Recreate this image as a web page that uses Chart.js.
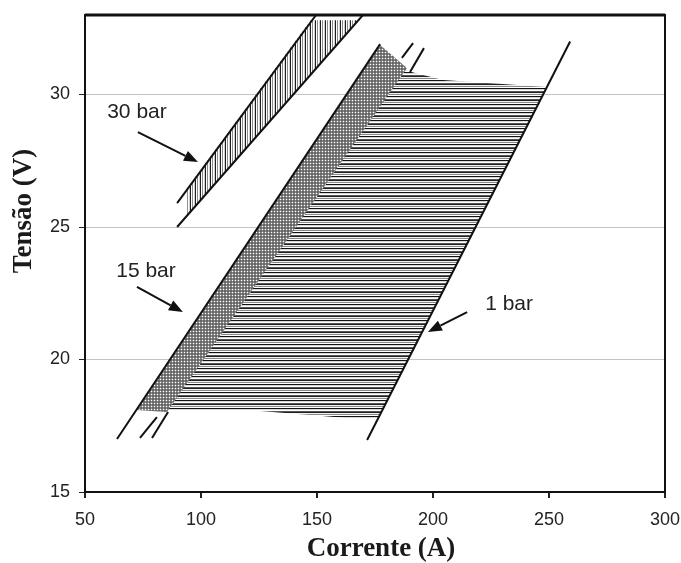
<!DOCTYPE html>
<html>
<head>
<meta charset="utf-8">
<script src="https://cdn.jsdelivr.net/npm/chart.js@4.4.1/dist/chart.umd.min.js"></script>
<style>
  html, body { margin: 0; padding: 0; background: #fff; }
  #wrap { width: 681px; height: 563px; }
</style>
</head>
<body>
<div id="wrap"><canvas id="myChart" width="681" height="563"></canvas></div>
<script>
// values: [corrente (A), tensão (V)]
var bar30Upper = [[89.7, 25.9], [149.6, 33.0]];
var bar30Lower = [[89.7, 25.0], [169.8, 33.0]];
var bar15Line = [[63.8, 17.0], [177.2, 31.9]];
var bar15MidLow = [[73.7, 17.04], [81.0, 17.83]];
var bar15MidHigh = [[186.6, 31.38], [191.4, 31.94]];
var bar15EdgeLow = [[78.9, 17.04], [85.8, 18.02]];
var bar15EdgeHigh = [[190.1, 30.85], [196.1, 31.75]];
var bar1Line = [[171.6, 16.96], [259.1, 32.0]];

// shaded areas
var area1bar = [[82, 18.09], [125.4, 18.06], [162.9, 17.79], [176.4, 17.79], [249.1, 30.28],
                [204.3, 30.55], [186, 30.95]];
var area15bar = [[72.0, 18.09], [177.2, 31.87], [188.8, 31.0], [85.3, 18.02]];
var area30bar = [[94.0, 26.45], [147.3, 32.8], [167.6, 32.8], [94.0, 25.43]];

var xTicks = [50, 100, 150, 200, 250, 300];
var yTicks = [15, 20, 25, 30];
var yMax = 33;

// labels with arrows: text, text centre, arrow tail, arrow head
var labels = [
    {text: "30 bar", at: [72.4, 29.32], from: [72.8, 28.58], to: [98.7, 27.45]},
    {text: "15 bar", at: [76.3, 23.32], from: [72.4, 22.74], to: [92.2, 21.79]},
    {text: "1 bar", at: [232.8, 22.09], from: [214.7, 21.79], to: [197.8, 21.04]}
];

function pts(arr) {
    return arr.map(function (p) { return {x: p[0], y: p[1]}; });
}

function makePattern(w, h, paint) {
    var c = document.createElement("canvas");
    c.width = w; c.height = h;
    var g = c.getContext("2d");
    g.fillStyle = "#fff";
    g.fillRect(0, 0, w, h);
    paint(g);
    return g.createPattern(c, "repeat");
}

var rowCols = ["#111111", "#d8d8d8", "#ffffff", "#555555", "#222222", "#f0f0f0", "#888888", "#ffffff"];
var hStripes = makePattern(8, rowCols.length, function (g) {
    rowCols.forEach(function (c, i) { g.fillStyle = c; g.fillRect(0, i, 8, 1); });
});
var colCols = ["#1e1e1e", "#ffffff", "#8a8a8a", "#ffffff", "#d0d0d0"];
var vStripes = makePattern(colCols.length, 8, function (g) {
    colCols.forEach(function (c, i) { g.fillStyle = c; g.fillRect(i, 0, 1, 8); });
});
var dots = makePattern(3, 3, function (g) {
    var m = [["#666", "#8a8a8a", "#666"], ["#8a8a8a", "#fff", "#8a8a8a"], ["#666", "#8a8a8a", "#666"]];
    for (var r = 0; r < 3; r++) for (var c = 0; c < 3; c++) { g.fillStyle = m[r][c]; g.fillRect(c, r, 1, 1); }
});

function lineSet(arr) {
    return {data: pts(arr), borderColor: "#111", borderWidth: 2, pointRadius: 0, fill: false, tension: 0};
}
function areaSet(arr, pattern) {
    return {data: pts(arr), borderWidth: 0, borderColor: "rgba(0,0,0,0)", pointRadius: 0,
            fill: "shape", backgroundColor: pattern, tension: 0};
}

// frame, axis titles, labels and arrows
var extras = {
    id: "extras",
    afterDatasetsDraw: function (chart) {
        var ctx = chart.ctx, a = chart.chartArea;
        var xs = chart.scales.x, ys = chart.scales.y;
        ctx.save();
        ctx.strokeStyle = "#111";
        ctx.lineWidth = 2;
        ctx.strokeRect(a.left, a.top, a.right - a.left, a.bottom - a.top);
        ctx.lineWidth = 3;
        ctx.beginPath(); ctx.moveTo(a.left, a.top); ctx.lineTo(a.right, a.top); ctx.stroke();

        ctx.fillStyle = "#222";
        ctx.font = "21px 'Liberation Sans', Arial, sans-serif";
        ctx.textAlign = "center";
        ctx.textBaseline = "middle";
        labels.forEach(function (l) {
            ctx.fillText(l.text, xs.getPixelForValue(l.at[0]), ys.getPixelForValue(l.at[1]));
            var x1 = xs.getPixelForValue(l.from[0]), y1 = ys.getPixelForValue(l.from[1]);
            var x2 = xs.getPixelForValue(l.to[0]), y2 = ys.getPixelForValue(l.to[1]);
            var ang = Math.atan2(y2 - y1, x2 - x1);
            var hl = 14, hw = 5.5;
            var bx = x2 - hl * Math.cos(ang), by = y2 - hl * Math.sin(ang);
            ctx.strokeStyle = "#111";
            ctx.lineWidth = 2;
            ctx.beginPath(); ctx.moveTo(x1, y1); ctx.lineTo(bx, by); ctx.stroke();
            ctx.fillStyle = "#111";
            ctx.beginPath();
            ctx.moveTo(x2, y2);
            ctx.lineTo(bx + hw * Math.sin(ang), by - hw * Math.cos(ang));
            ctx.lineTo(bx - hw * Math.sin(ang), by + hw * Math.cos(ang));
            ctx.closePath(); ctx.fill();
            ctx.fillStyle = "#222";
        });

        ctx.fillStyle = "#1a1a1a";
        ctx.font = "bold 27px 'Liberation Serif', 'Times New Roman', serif";
        ctx.fillText("Corrente (A)", (a.left + a.right) / 2 + 6, 549);
        ctx.translate(24, 211);
        ctx.rotate(-Math.PI / 2);
        ctx.fillText("Tensão (V)", 0, 0);
        ctx.restore();
    }
};

new Chart("myChart", {
    type: "line",
    data: {
        datasets: [
            lineSet(bar30Upper),
            lineSet(bar30Lower),
            lineSet(bar15Line),
            lineSet(bar15MidLow),
            lineSet(bar15MidHigh),
            lineSet(bar15EdgeLow),
            lineSet(bar15EdgeHigh),
            lineSet(bar1Line),
            areaSet(area30bar, vStripes),
            areaSet(area15bar, dots),
            areaSet(area1bar, hStripes)
        ]
    },
    options: {
        responsive: false,
        animation: false,
        layout: {padding: {left: 0, right: 16, top: 15, bottom: 0}},
        plugins: {legend: {display: false}, tooltip: {enabled: false}},
        scales: {
            x: {
                type: "linear",
                min: xTicks[0], max: xTicks[xTicks.length - 1],
                afterBuildTicks: function (s) { s.ticks = xTicks.map(function (v) { return {value: v}; }); },
                afterFit: function (s) { s.height = 71; s.paddingLeft = 0; s.paddingRight = 0; },
                grid: {drawOnChartArea: false, tickLength: 6, tickColor: "#222", lineWidth: 2},
                border: {color: "#111", width: 2},
                ticks: {color: "#222", padding: 11, font: {family: "'Liberation Sans', Arial, sans-serif", size: 18}}
            },
            y: {
                type: "linear",
                min: yTicks[0], max: yMax,
                afterBuildTicks: function (s) { s.ticks = yTicks.map(function (v) { return {value: v}; }); },
                afterFit: function (s) { s.width = 85; s.paddingTop = 0; s.paddingBottom = 0; },
                grid: {color: "#c4c4c4", lineWidth: 1, tickLength: 6, tickColor: "#222"},
                border: {color: "#111", width: 2},
                ticks: {color: "#222", padding: 9, font: {family: "'Liberation Sans', Arial, sans-serif", size: 18}}
            }
        }
    },
    plugins: [extras]
});
</script>
</body>
</html>
